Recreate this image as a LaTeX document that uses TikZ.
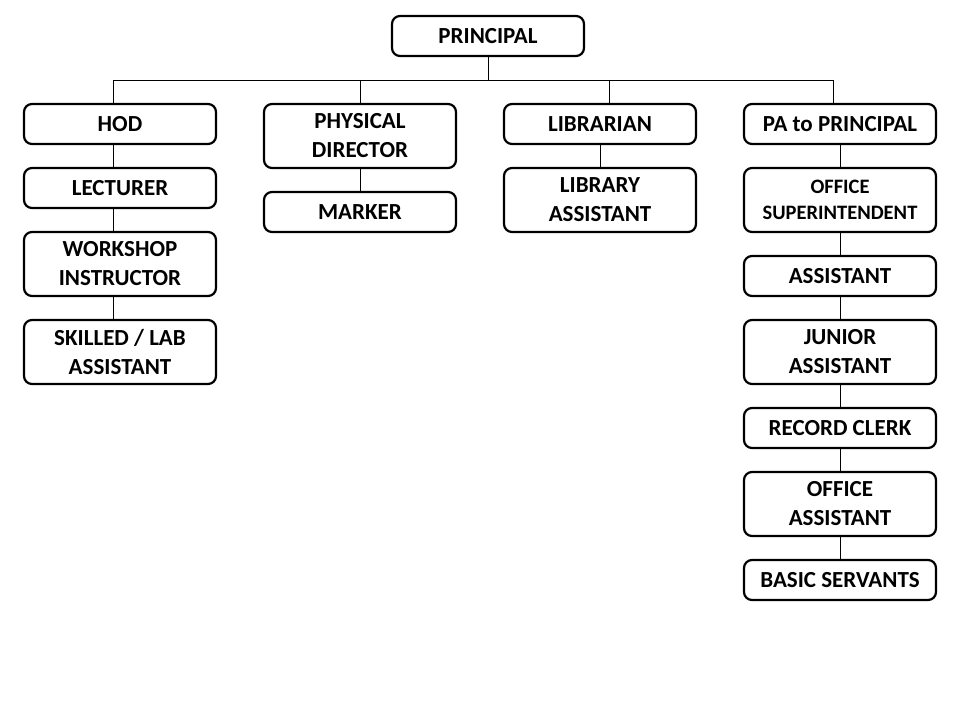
\documentclass[tikz,border=0pt]{standalone}
\usepackage{fontspec}
\setmainfont{Carlito}
\usepackage{tikz}
\usetikzlibrary{positioning,calc}

\tikzset{
  post/.style={draw,line width=2.2pt,rounded corners=8pt,minimum width=192pt,minimum height=40pt,
    align=center,inner sep=2pt,font=\fontsize{23}{29}\selectfont\bfseries},
  tallpost/.style={post,minimum height=64pt},
  link/.style={line width=0.9pt}
}

\begin{document}
\begin{tikzpicture}[x=1pt,y=-1pt,node distance=21.8pt]
    \useasboundingbox (0,0) rectangle (960,720);
    \node[post] (principal) at (488,36) {PRINCIPAL};

    % top row
    \node[post] (hod) at (120,124) {HOD};
    \node[tallpost] (pd) at (360,136) {PHYSICAL\\DIRECTOR};
    \node[post] (lib) at (600,124) {LIBRARIAN};
    \node[post] (pa) at (840,124) {PA to PRINCIPAL};

    % HOD side
    \node[post,below=of hod] (lect) {LECTURER};
    \node[tallpost,below=of lect] (wi) {WORKSHOP\\INSTRUCTOR};
    \node[tallpost,below=of wi] (skill) {SKILLED / LAB\\ASSISTANT};

    % physical director and library
    \node[post,below=of pd] (marker) {MARKER};
    \node[tallpost,below=of lib] (libasst) {LIBRARY\\ASSISTANT};

    % office
    \node[tallpost,below=of pa,font=\fontsize{20.5}{26}\selectfont\bfseries] (os) {OFFICE\\SUPERINTENDENT};
    \node[post,below=of os] (asst) {ASSISTANT};
    \node[tallpost,below=of asst] (jrasst) {JUNIOR\\ASSISTANT};
    \node[post,below=of jrasst] (rc) {RECORD CLERK};
    \node[tallpost,below=of rc] (oa) {OFFICE\\ASSISTANT};
    \node[post,below=of oa] (bs) {BASIC SERVANTS};

    % bus under the principal
    \draw[link] (principal.south) -- ++(0,23) coordinate (bus);
    \draw[link] ([xshift=-7pt]hod.north) |- (bus);
    \draw[link] ([xshift=-7pt]pa.north) |- (bus);
    \draw[link] (pd.north) -- (pd.north |- bus);
    \draw[link] ([xshift=9pt]lib.north) -- ([xshift=9pt]lib.north |- bus);

    % chains
    \draw[link] ([xshift=-7pt]hod.south) -- ([xshift=-7pt]lect.north);
    \draw[link] ([xshift=-7pt]lect.south) -- ([xshift=-7pt]wi.north);
    \draw[link] ([xshift=-7pt]wi.south) -- ([xshift=-7pt]skill.north);
    \draw[link] (pd) -- (marker);
    \draw[link] (lib) -- (libasst);
    \draw[link] (pa) -- (os);
    \draw[link] (os) -- (asst);
    \draw[link] (asst) -- (jrasst);
    \draw[link] (jrasst) -- (rc);
    \draw[link] (rc) -- (oa);
    \draw[link] (oa) -- (bs);
\end{tikzpicture}
\end{document}
